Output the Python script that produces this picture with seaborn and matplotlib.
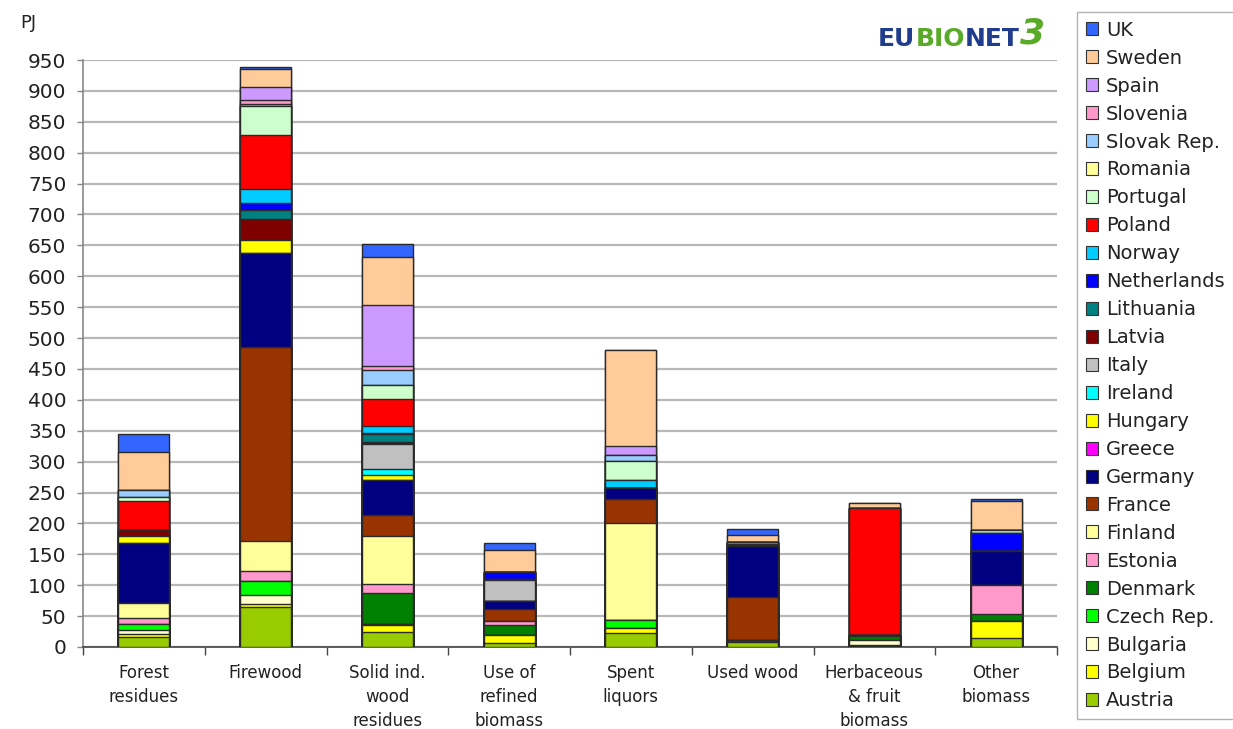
import numpy as np
import matplotlib
matplotlib.use("Agg")
import matplotlib.pyplot as plt
import seaborn as sns
from matplotlib.patches import Patch

# ---------------- data (PJ) ----------------
categories = ["Forest\nresidues", "Firewood", "Solid ind.\nwood\nresidues",
              "Use of\nrefined\nbiomass", "Spent\nliquors", "Used wood",
              "Herbaceous\n& fruit\nbiomass", "Other\nbiomass"]

austria     = [16, 64, 24,  7,  23,  8,   2, 15]
belgium     = [ 5,  6, 11, 12,   7,  0,   1, 27]
bulgaria    = [ 6, 14,  2,  0,   0,  0,   9,  0]
czech       = [10, 23,  0,  1,  14,  0,   0,  0]
denmark     = [ 0,  0, 50, 16,   0,  3,   5, 11]
estonia     = [10, 16, 15,  6,   0,  0,   0, 47]
finland     = [24, 49, 78,  0, 157,  0,   0,  0]
france      = [ 0,314, 33, 20,  39, 70,   0,  0]
germany     = [97,152, 57, 12,  17, 82,   0, 56]
greece      = [ 0,  0,  0,  0,   0,  0,   0,  0]
hungary     = [12, 20,  8,  0,   0,  0,   3,  0]
ireland     = [ 0,  0, 10,  0,   0,  0,   0,  0]
italy       = [ 0,  0, 41, 34,   0,  0,   0,  0]
latvia      = [10, 35,  2,  2,   0,  0,   0,  0]
lithuania   = [ 0, 14, 13,  0,   0,  0,   0,  0]
netherlands = [ 0, 11,  2, 11,   0,  3,   0, 29]
norway      = [ 0, 23, 11,  0,  13,  4,   0,  0]
poland      = [46, 88, 45,  0,   0,  0, 205,  0]
portugal    = [ 7, 47, 22,  0,  31,  0,   0,  5]
romania     = [ 0,  0,  0,  0,   0,  0,   0,  0]
slovak      = [11,  2, 24,  0,  10,  0,   0,  0]
slovenia    = [ 0,  8,  7,  0,   0,  0,   0,  0]
spain       = [ 0, 20, 98,  0,  14,  0,   0,  0]
sweden      = [62, 30, 78, 36, 155, 11,   8, 47]
uk          = [29,  3, 21, 11,   0, 10,   0,  2]

countries = ["Austria", "Belgium", "Bulgaria", "Czech Rep.", "Denmark", "Estonia",
             "Finland", "France", "Germany", "Greece", "Hungary", "Ireland", "Italy",
             "Latvia", "Lithuania", "Netherlands", "Norway", "Poland", "Portugal",
             "Romania", "Slovak Rep.", "Slovenia", "Spain", "Sweden", "UK"]
series = [austria, belgium, bulgaria, czech, denmark, estonia, finland, france,
          germany, greece, hungary, ireland, italy, latvia, lithuania, netherlands,
          norway, poland, portugal, romania, slovak, slovenia, spain, sweden, uk]
colors = ["#99CC00", "#FFFF00", "#FFFFCC", "#00FF00", "#008000", "#FF99CC",
          "#FFFF99", "#993300", "#000080", "#FF00FF", "#FFFF00", "#00FFFF", "#C0C0C0",
          "#800000", "#008080", "#0000FF", "#00CCFF", "#FF0000", "#CCFFCC",
          "#FFFF99", "#99CCFF", "#FF99CC", "#CC99FF", "#FFCC99", "#3366FF"]

# ---------------- figure ----------------
sns.set_style("white")
plt.rcParams["font.family"] = ["DejaVu Sans"]

W, H = 1233, 729
fig = plt.figure(figsize=(W / 100, H / 100), dpi=100)
ax = fig.add_axes([83 / W, 1 - 647 / H, (1057 - 83) / W, (647 - 60) / H])

cum = np.cumsum(np.array(series, dtype=float), axis=0)
for i in reversed(range(len(countries))):
    sns.barplot(x=categories, y=cum[i], color=colors[i], saturation=1,
                edgecolor="#2a2a2a", linewidth=1.0, width=0.42, ax=ax, zorder=3)

ax.set_xlim(-0.5, 7.5)
ax.set_ylim(0, 950)
ax.set_yticks(np.arange(0, 951, 50))
ax.set_xlabel("")
ax.set_ylabel("")
ax.yaxis.grid(True, color="#b8b8b8", linewidth=1.6)
ax.xaxis.grid(False)
ax.set_axisbelow(True)

for s in ["top", "right"]:
    ax.spines[s].set_visible(False)
ax.spines["left"].set_color("#888888")
ax.spines["bottom"].set_color("#444444")
ax.spines["left"].set_linewidth(1.2)
ax.spines["bottom"].set_linewidth(1.2)

ax.set_xticks(np.arange(-0.5, 8, 1), minor=True)
ax.tick_params(axis="x", which="major", length=0, pad=12, labelsize=12,
               labelcolor="#222222")
ax.tick_params(axis="x", which="minor", bottom=True, length=6, width=1,
               color="#444444", direction="out")
ax.tick_params(axis="y", which="major", left=True, length=4, width=1,
               color="#888888", labelsize=14.5, labelcolor="#222222", pad=8)
for lbl in ax.get_xticklabels():
    lbl.set_fontfamily("DejaVu Sans")
    lbl.set_linespacing(1.45)
    lbl.set_va("top")

fig.text(20 / W, 1 - 23 / H, "PJ", fontsize=13, color="#222222", va="center", ha="left")

# logo
t1 = fig.text(878 / W, 1 - 46 / H, "EU", fontsize=18, fontweight="bold",
              color="#1f3d8c", ha="left", va="baseline")
t2 = ax.annotate("BIO", xy=(1, 0), xycoords=t1, fontsize=18, fontweight="bold",
                 color="#5aaa2a", ha="left", va="bottom", annotation_clip=False)
t3 = ax.annotate("NET", xy=(1, 0), xycoords=t2, fontsize=18, fontweight="bold",
                 color="#1f3d8c", ha="left", va="bottom", annotation_clip=False)
t4 = ax.annotate("3", xy=(1, 0), xycoords=t3, fontsize=26, fontweight="bold",
                 fontstyle="italic", color="#5aaa2a", ha="left", va="bottom",
                 annotation_clip=False)

# legend (top entry = UK)
handles = [Patch(facecolor=colors[i], edgecolor="#333333", linewidth=0.8,
                 label=countries[i]) for i in reversed(range(len(countries)))]
leg = fig.legend(handles=handles, loc="upper left",
                 bbox_to_anchor=(1077 / W, 1 - 12 / H), borderaxespad=0,
                 fontsize=14, frameon=True, fancybox=False, edgecolor="#a0a0a0",
                 handlelength=0.65, handleheight=0.65, handletextpad=0.4,
                 labelspacing=0.46, borderpad=0.45)
leg.get_frame().set_linewidth(1.0)
for t in leg.get_texts():
    t.set_color("#222222")

fig.savefig("out.png", dpi=100)
